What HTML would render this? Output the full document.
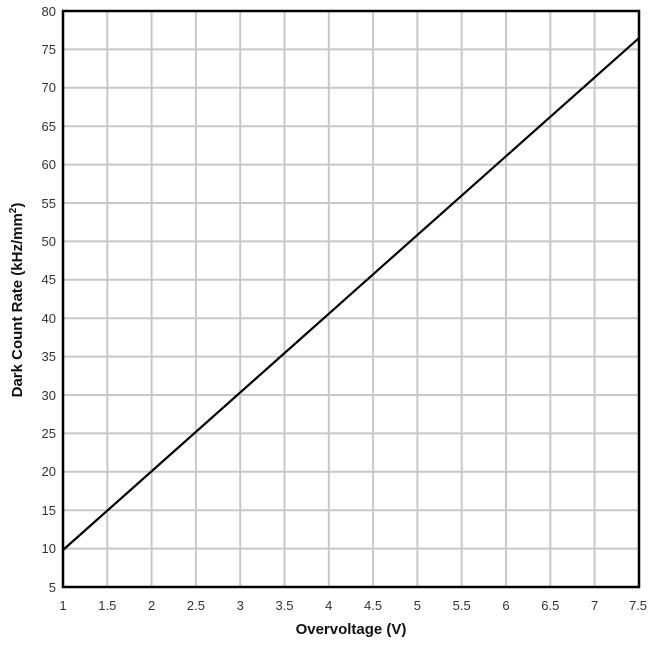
<!DOCTYPE html>
<html><head><style>body{margin:0;background:#fff}</style></head><body>
<svg width="656" height="641" xmlns="http://www.w3.org/2000/svg" font-family="Liberation Sans, sans-serif">
<g stroke="#c8c8c8" stroke-width="2">
<line x1="107.3" y1="11" x2="107.3" y2="587"/><line x1="151.6" y1="11" x2="151.6" y2="587"/><line x1="195.9" y1="11" x2="195.9" y2="587"/><line x1="240.2" y1="11" x2="240.2" y2="587"/><line x1="284.5" y1="11" x2="284.5" y2="587"/><line x1="328.8" y1="11" x2="328.8" y2="587"/><line x1="373.1" y1="11" x2="373.1" y2="587"/><line x1="417.4" y1="11" x2="417.4" y2="587"/><line x1="461.7" y1="11" x2="461.7" y2="587"/><line x1="506" y1="11" x2="506" y2="587"/><line x1="550.3" y1="11" x2="550.3" y2="587"/><line x1="594.6" y1="11" x2="594.6" y2="587"/>
<line x1="63" y1="548.6" x2="639" y2="548.6"/><line x1="63" y1="510.2" x2="639" y2="510.2"/><line x1="63" y1="471.8" x2="639" y2="471.8"/><line x1="63" y1="433.4" x2="639" y2="433.4"/><line x1="63" y1="395" x2="639" y2="395"/><line x1="63" y1="356.6" x2="639" y2="356.6"/><line x1="63" y1="318.2" x2="639" y2="318.2"/><line x1="63" y1="279.8" x2="639" y2="279.8"/><line x1="63" y1="241.4" x2="639" y2="241.4"/><line x1="63" y1="203" x2="639" y2="203"/><line x1="63" y1="164.6" x2="639" y2="164.6"/><line x1="63" y1="126.2" x2="639" y2="126.2"/><line x1="63" y1="87.8" x2="639" y2="87.8"/><line x1="63" y1="49.4" x2="639" y2="49.4"/>
</g>
<rect x="63" y="11" width="576" height="576" fill="none" stroke="#000" stroke-width="2.5"/>
<line x1="63" y1="550" x2="639" y2="38" stroke="#000" stroke-width="2.2"/>
<g font-size="13" fill="#333" text-anchor="end">
<text x="56" y="592">5</text><text x="56" y="553">10</text><text x="56" y="515">15</text><text x="56" y="476">20</text><text x="56" y="438">25</text><text x="56" y="400">30</text><text x="56" y="361">35</text><text x="56" y="323">40</text><text x="56" y="284">45</text><text x="56" y="246">50</text><text x="56" y="208">55</text><text x="56" y="169">60</text><text x="56" y="131">65</text><text x="56" y="92">70</text><text x="56" y="54">75</text><text x="56" y="16">80</text>
</g>
<g font-size="13" fill="#333" text-anchor="middle">
<text x="63" y="610">1</text><text x="107.3" y="610">1.5</text><text x="151.6" y="610">2</text><text x="195.9" y="610">2.5</text><text x="240.2" y="610">3</text><text x="284.5" y="610">3.5</text><text x="328.8" y="610">4</text><text x="373.1" y="610">4.5</text><text x="417.4" y="610">5</text><text x="461.7" y="610">5.5</text><text x="506" y="610">6</text><text x="550.3" y="610">6.5</text><text x="594.6" y="610">7</text><text x="638" y="610">7.5</text>
</g>
<text x="351" y="634" font-size="15" font-weight="bold" text-anchor="middle" fill="#111">Overvoltage (V)</text>
<text transform="translate(22,300) rotate(-90)" font-size="15" font-weight="bold" text-anchor="middle" fill="#111">Dark Count Rate (kHz/mm<tspan font-size="10" dy="-6">2</tspan><tspan dy="6">)</tspan></text>
</svg>
</body></html>
